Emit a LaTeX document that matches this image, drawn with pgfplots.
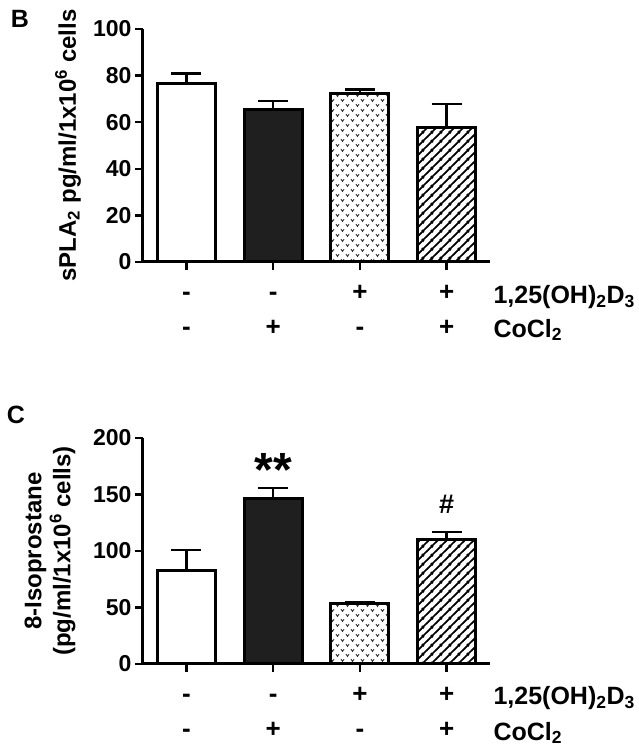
\documentclass[border=0pt]{standalone}
\usepackage{fontspec}
\setmainfont{Liberation Sans}
\usepackage{pgfplots}
\pgfplotsset{compat=1.18}
\usetikzlibrary{patterns}

\pgfdeclarepatternformonly{vmarks}{\pgfqpoint{-1pt}{-1pt}}{\pgfqpoint{11pt}{11pt}}{\pgfqpoint{10pt}{10pt}}{%
  \pgfsetlinewidth{0.9pt}%
  \pgfpathmoveto{\pgfqpoint{1.0pt}{3.8pt}}\pgfpathlineto{\pgfqpoint{2.5pt}{1.6pt}}\pgfpathlineto{\pgfqpoint{4.0pt}{3.8pt}}%
  \pgfpathmoveto{\pgfqpoint{6.0pt}{8.8pt}}\pgfpathlineto{\pgfqpoint{7.5pt}{6.6pt}}\pgfpathlineto{\pgfqpoint{9.0pt}{8.8pt}}%
  \pgfusepath{stroke}%
}
\pgfdeclarepatternformonly{hatch}{\pgfqpoint{0pt}{0pt}}{\pgfqpoint{9pt}{9pt}}{\pgfqpoint{9pt}{9pt}}{%
  \pgfsetlinewidth{1.9pt}%
  \pgfpathmoveto{\pgfqpoint{-1pt}{-1pt}}\pgfpathlineto{\pgfqpoint{10pt}{10pt}}%
  \pgfpathmoveto{\pgfqpoint{-1pt}{8pt}}\pgfpathlineto{\pgfqpoint{1pt}{10pt}}%
  \pgfpathmoveto{\pgfqpoint{8pt}{-1pt}}\pgfpathlineto{\pgfqpoint{10pt}{1pt}}%
  \pgfusepath{stroke}%
}

\tikzset{rowname/.style={anchor=west, font=\fontsize{25}{28}\selectfont\bfseries}}

\pgfplotsset{
  panel/.style={
    scale only axis, width=347pt, xmin=-0.5, xmax=3.5, ymin=0,
    axis x line*=bottom, axis y line*=left,
    axis line style={line width=3pt, -},
    ybar, bar width=0.67, bar shift=0pt,
    xtick={0,1,2,3},
    xticklabels={{\strut-\\\strut-},{\strut-\\\strut+},{\strut+\\\strut-},{\strut+\\\strut+}},
    xticklabel style={align=center, font=\fontsize{26}{35}\selectfont\bfseries, yshift=-6pt, inner sep=0pt},
    yticklabel style={font=\fontsize{23}{27}\selectfont\bfseries},
    /pgf/number format/assume math mode=true,
    tick style={line width=2.5pt, black},
    major tick length=8pt,
    tick align=outside,
    clip=false,
    ylabel style={font=\fontsize{24}{29}\selectfont\bfseries, anchor=center, align=center},
  },
  eb/.style={error bars/.cd, y dir=plus, y explicit,
    error bar style={line width=2.5pt, black},
    error mark options={rotate=90, line width=2.5pt, black, mark size=15pt}},
  b1/.style={draw=black, line width=3pt, fill=white, eb},
  b2/.style={draw=black, line width=3pt, fill=black!88, eb},
  b3/.style={draw=black, line width=3pt, fill=white, postaction={pattern=vmarks, pattern color=black!80}, eb},
  b4/.style={draw=black, line width=3pt, fill=white, postaction={pattern=hatch, pattern color=black}, eb},
}

\begin{document}
\begin{tikzpicture}
\useasboundingbox (0,0) rectangle (638pt,753pt);

% Panel B
\begin{axis}[panel, at={(143pt,491pt)}, anchor=south west, height=233pt,
  ymax=100, ytick={0,20,40,60,80,100},
  ylabel={sPLA\textsubscript{2} pg/ml/1x10\textsuperscript{6} cells},
  ylabel style={at={(axis description cs:-0.216,0.5)}}]
\addplot[b1] coordinates {(0,76.4) +- (0,4.6)};
\addplot[b2] coordinates {(1,65.5) +- (0,3.7)};
\addplot[b3] coordinates {(2,72.5) +- (0,1.6)};
\addplot[b4] coordinates {(3,57.8) +- (0,10.0)};
\node[rowname] at (rel axis cs:1,0) [yshift=-35pt] {1,25(OH)\textsubscript{2}D\textsubscript{3}};
\node[rowname] at (rel axis cs:1,0) [yshift=-68pt] {CoCl\textsubscript{2}};
\end{axis}
\node[font=\fontsize{25}{28}\selectfont\bfseries] at (20pt,734pt) {B};

% Panel C
\begin{axis}[panel, at={(143pt,89pt)}, anchor=south west, height=226pt,
  ymax=200, ytick={0,50,100,150,200},
  ylabel={8-Isoprostane\\(pg/ml/1x10\textsuperscript{6} cells)},
  ylabel style={at={(axis description cs:-0.268,0.5)}}]
\addplot[b1] coordinates {(0,82.6) +- (0,18.5)};
\addplot[b2] coordinates {(1,146.6) +- (0,9.0)};
\addplot[b3] coordinates {(2,53.2) +- (0,1.8)};
\addplot[b4] coordinates {(3,110.4) +- (0,6.2)};
\node[anchor=base, font=\fontsize{48}{52}\selectfont\bfseries] at (axis cs:1,157) {**};
\node[anchor=center, font=\fontsize{27}{30}\selectfont\bfseries] at (axis cs:3,141.6) {\#};
\node[rowname] at (rel axis cs:1,0) [yshift=-34pt] {1,25(OH)\textsubscript{2}D\textsubscript{3}};
\node[rowname] at (rel axis cs:1,0) [yshift=-69pt] {CoCl\textsubscript{2}};
\end{axis}
\node[font=\fontsize{25}{28}\selectfont\bfseries] at (16pt,338pt) {C};
\end{tikzpicture}
\end{document}
